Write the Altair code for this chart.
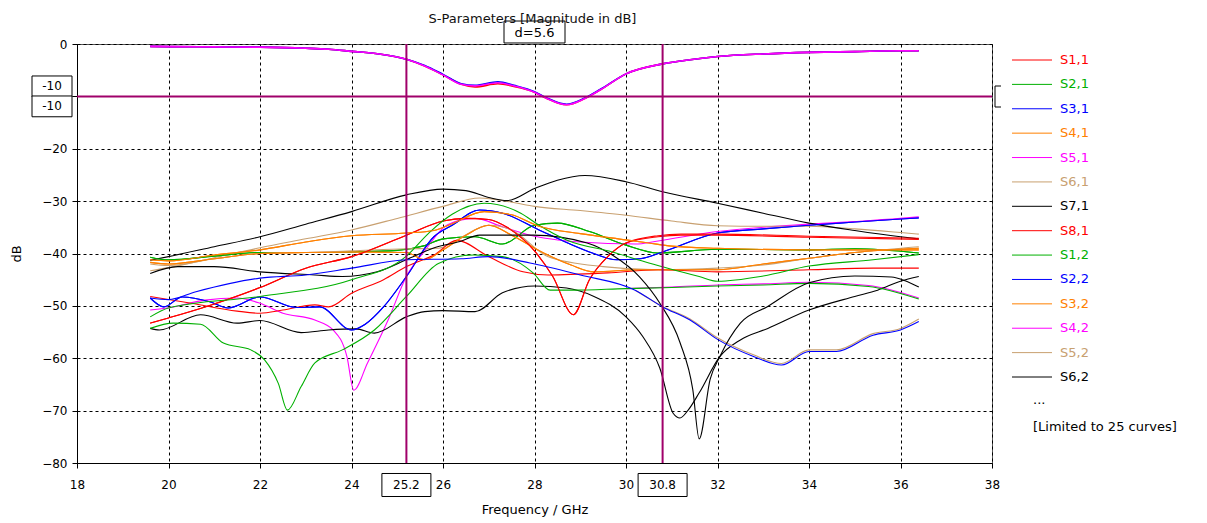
import altair as alt
import pandas as pd

F = "DejaVu Sans"
RED, GREEN, BLUE, ORANGE = "#FF0000", "#00B000", "#0000FF", "#FF8000"
MAGENTA, TAN, BLACK = "#FF00FF", "#C8A070", "#000000"
MARK = "#A0006A"

# ---------------- data ----------------
refl_f = [19.6, 20, 21, 22, 23, 23.5, 24, 24.6, 25.2, 25.6, 26, 26.4, 26.7, 27.2, 27.55, 28, 28.25, 28.7, 29.1, 29.45, 30, 30.8, 31.4, 32, 33, 34, 35, 36, 36.4]
s11_db = [-0.45, -0.5, -0.55, -0.6, -0.8, -1.0, -1.4, -1.9, -2.9, -4.2, -5.9, -7.7, -8.2, -7.6, -8.1, -9.2, -10.3, -11.6, -10.4, -8.7, -5.7, -3.8, -3.0, -2.4, -1.9, -1.6, -1.45, -1.3, -1.3]
s22_db = [-0.45, -0.5, -0.55, -0.6, -0.8, -1.0, -1.4, -1.9, -2.9, -4.1, -5.8, -7.6, -7.9, -7.2, -7.9, -9.1, -10.2, -11.5, -10.3, -8.6, -5.7, -3.8, -3.0, -2.4, -1.9, -1.6, -1.45, -1.3, -1.3]
s33_db = [-0.45, -0.5, -0.55, -0.6, -0.8, -1.0, -1.4, -1.9, -2.9, -4.2, -5.9, -7.7, -8.0, -7.4, -8.0, -9.2, -10.3, -11.6, -10.4, -8.7, -5.7, -3.8, -3.0, -2.4, -1.9, -1.6, -1.45, -1.3, -1.3]

f_k1 = [19.6, 20, 21, 22, 23, 24, 25.2, 26, 26.5, 27, 27.4, 28, 28.5, 29.1, 30, 30.8, 32, 33, 34, 35, 36, 36.4]
db_k1 = [-41.3, -40.6, -38.7, -36.8, -34.4, -32.0, -28.8, -27.7, -28.0, -29.3, -29.9, -27.6, -26.0, -25.1, -26.3, -28.2, -30.4, -32.3, -34.2, -35.6, -36.8, -37.2]

f_t1 = [19.6, 20, 21, 22, 23, 24, 25, 26, 26.8, 27.5, 28, 29, 30, 31, 32, 33, 34, 35, 36, 36.4]
db_t1 = [-43.3, -42.7, -40.8, -38.9, -37.2, -35.5, -33.3, -31.0, -29.4, -30.2, -31.0, -31.8, -32.7, -33.8, -34.7, -34.8, -34.8, -35.3, -36.0, -36.3]

f_o1 = [19.6, 20, 21, 22, 23, 24, 25.2, 25.8, 26.2, 26.9, 27.5, 28.1, 29, 30, 30.5, 31, 32, 34, 36.4]
db_o1 = [-41.2, -41.4, -40.3, -39.3, -37.8, -36.6, -36.1, -35.6, -34.3, -32.0, -32.6, -34.8, -36.2, -37.4, -38.0, -38.6, -39.0, -39.3, -39.3]

f_o2 = [19.6, 20, 21, 22, 23, 24, 25.2, 25.6, 26, 26.5, 27, 27.5, 28.2, 28.8, 29.3, 30.3, 32, 33, 34, 35, 36.4]
db_o2 = [-41.7, -42.0, -41.0, -40.0, -39.8, -39.7, -39.8, -41.2, -39.3, -36.5, -34.6, -36.5, -39.9, -42.2, -43.5, -43.1, -43.1, -42.0, -40.9, -39.8, -39.0]

f_t2 = [19.6, 20, 21, 22, 23, 24, 25.2, 25.9, 26.3, 27, 27.5, 28.3, 29.5, 30.7, 32, 33, 34, 35, 36.4]
db_t2 = [-42.0, -42.3, -41.0, -40.0, -39.8, -39.5, -39.1, -39.0, -37.4, -34.6, -35.5, -40.6, -42.5, -43.1, -42.8, -42.2, -40.9, -39.8, -38.7]

f_b1 = [19.6, 19.9, 20.3, 20.9, 21.3, 22, 22.8, 23.3, 24.0, 24.3, 24.7, 25.2, 25.8, 26.2, 26.8, 27.3, 28.1, 29.2, 29.8, 30.3, 30.8, 32, 33, 34, 35, 36, 36.4]
db_b1 = [-48.5, -50.2, -48.3, -49.2, -50.4, -48.3, -50.3, -50.2, -54.6, -53.5, -50.2, -44.4, -36.8, -34.6, -31.7, -32.3, -35.5, -39.7, -41.2, -41.0, -39.7, -36.1, -35.3, -34.6, -34.0, -33.4, -33.2]

f_b2 = [19.6, 20, 20.6, 22, 23, 24, 25.2, 26.4, 27, 27.9, 29, 30.2, 30.8, 31.4, 32, 32.8, 33.4, 34, 34.6, 35.4, 36, 36.4]
db_b2 = [-48.5, -48.8, -47.3, -44.7, -44.1, -42.8, -41.2, -41.0, -40.6, -41.8, -44.1, -47.0, -50.2, -52.7, -56.4, -59.7, -61.3, -58.7, -58.7, -55.6, -54.6, -53.0]
f_t3 = [30.2, 30.8, 31.4, 32, 32.8, 33.4, 34, 34.6, 35.4, 36, 36.4]
db_t3 = [-47.0, -50.1, -52.5, -56.1, -59.4, -61.0, -58.4, -58.4, -55.3, -54.3, -52.5]

f_m1 = [19.6, 20.1, 20.8, 21.5, 22, 22.5, 23.2, 23.6, 23.9, 24.05, 24.35, 24.8, 25.2, 25.6, 26.1, 26.7, 27.3, 27.9, 29.0, 30.2, 30.7, 32, 33, 34, 35, 36, 36.4]
db_m1 = [-50.8, -50.2, -48.9, -48.5, -49.5, -51.4, -52.7, -54.6, -59.7, -66.1, -60.9, -52.7, -44.4, -39.5, -34.5, -33.3, -34.9, -36.5, -37.8, -38.2, -37.6, -35.8, -35.0, -34.4, -33.9, -33.3, -33.0]

f_g3 = [19.6, 20, 21, 22, 23, 24, 25, 25.6, 26, 26.7, 27.3, 28, 28.5, 29.2, 30, 30.7, 32, 34, 35, 36.4]
db_g3 = [-40.7, -41.2, -40.5, -39.8, -39.8, -39.7, -39.4, -38.5, -37.2, -36.8, -38.2, -34.6, -34.2, -35.8, -38.4, -39.9, -39.2, -39.3, -39.1, -39.9]

f_g1 = [19.6, 20.1, 20.7, 21.2, 21.8, 22.1, 22.4, 22.6, 22.9, 23.2, 23.8, 24.5, 25.2, 25.9, 26.66, 27.3, 27.97, 28.34, 28.84, 30.0, 31, 32, 33, 34, 35.3, 36.4]
db_g1 = [-54.3, -53.3, -53.5, -57.1, -58.4, -60.3, -64.8, -69.9, -65.4, -60.9, -58.4, -54.6, -48.2, -41.9, -40.3, -40.6, -43.7, -47.0, -47.0, -46.7, -46.5, -46.2, -46.0, -45.7, -46.3, -48.7]
f_m2 = [30.0, 31, 32, 33, 34, 35.3, 36.4]
db_m2 = [-46.7, -46.4, -46.0, -45.8, -45.5, -46.1, -48.5]

f_g2 = [19.6, 20, 22, 24, 25.2, 25.7, 26.2, 26.9, 27.7, 28.1, 28.7, 29.7, 30.5, 31.6, 32, 33, 34, 35.4, 36.4]
db_g2 = [-52.1, -50.4, -48.2, -45.0, -40.5, -36.0, -32.5, -30.4, -32.3, -34.6, -37.4, -39.7, -41.8, -44.4, -45.3, -44.3, -42.4, -41.2, -40.2]

f_r1 = [19.6, 20, 20.8, 22, 23, 24, 25.2, 26, 26.5, 27, 27.4, 28, 28.4, 28.85, 29.2, 29.6, 30, 30.7, 31.2, 32, 34, 36.4]
db_r1 = [-53.3, -52.3, -50.2, -46.5, -42.8, -40.6, -36.5, -33.8, -33.3, -33.5, -35.0, -39.5, -44.4, -51.7, -45.0, -40.6, -38.0, -36.8, -36.5, -36.5, -36.9, -37.3]
db_r3 = [-53.3, -52.3, -50.2, -46.5, -42.8, -40.6, -36.5, -33.8, -33.3, -33.5, -35.0, -39.5, -44.4, -51.7, -45.0, -40.6, -38.0, -36.6, -36.3, -36.3, -36.7, -37.1]

f_r2 = [19.6, 20.5, 21.5, 22, 22.5, 23.2, 23.5, 24.0, 24.7, 25.2, 25.8, 26.3, 27, 27.75, 28.3, 29.6, 30.7, 32, 34, 35.4, 36.4]
db_r2 = [-48.2, -49.5, -51.0, -51.4, -50.8, -49.8, -50.2, -47.6, -45.0, -42.5, -40.3, -37.5, -40.6, -43.5, -44.1, -43.7, -43.1, -43.5, -43.1, -42.8, -42.8]

f_k2 = [19.6, 19.8, 20.7, 21.5, 22, 22.9, 23.5, 24.1, 24.5, 25.2, 25.6, 26, 26.7, 27.3, 28, 28.7, 29.3, 30, 30.37, 30.74, 31.03, 31.18, 31.35, 31.6, 32.05, 32.5, 33.1, 34, 35, 35.5, 36, 36.4]
db_k2 = [-54.3, -54.6, -51.7, -53.3, -52.8, -55.1, -54.6, -54.4, -55.2, -52.1, -51.1, -50.9, -51.1, -47.5, -46.2, -46.6, -48.2, -52.1, -55.9, -61.9, -70.5, -71.4, -70.0, -66.6, -59.7, -56.5, -54.3, -50.8, -48.2, -47.0, -45.3, -44.4]

f_k3 = [19.6, 20.2, 21, 22, 23.2, 23.8, 24.56, 25.2, 25.78, 26.37, 26.8, 27.97, 29.15, 29.7, 30.3, 30.74, 31.18, 31.46, 31.6, 31.84, 32.05, 32.5, 33.08, 34, 35, 35.8, 36.1, 36.4]
db_k3 = [-43.8, -42.5, -42.5, -43.5, -44.1, -44.4, -43.5, -41.2, -39.0, -37.7, -36.5, -36.5, -38.0, -40.3, -44.5, -49.5, -57.0, -66.0, -75.4, -64.0, -59.7, -53.3, -50.2, -45.6, -44.3, -44.5, -45.2, -46.4]

names = ["S1,1", "S2,1", "S3,1", "S4,1", "S5,1", "S6,1", "S7,1", "S8,1",
         "S1,2", "S2,2", "S3,2", "S4,2", "S5,2", "S6,2", "S7,2", "S8,2",
         "S1,3", "S2,3", "S3,3", "S4,3", "S5,3", "S6,3", "S7,3", "S8,3", "S1,4"]
colors = [RED, GREEN, BLUE, ORANGE, MAGENTA, TAN, BLACK] * 3 + [RED, GREEN, BLUE, ORANGE]
freqs = [refl_f, f_g3, f_b1, f_o1, f_m1, f_t1, f_k1, f_r1,
         f_g3, refl_f, f_o2, f_m2, f_t2, f_k2, f_r2, f_g1,
         f_b1, f_o2, refl_f, f_t3, f_k3, f_r1, f_g2, f_b2, f_o1]
values = [s11_db, db_g3, db_b1, db_o1, db_m1, db_t1, db_k1, db_r1,
          db_g3, s22_db, db_o2, db_m2, db_t2, db_k2, db_r2, db_g1,
          db_b1, db_o2, s33_db, db_t3, db_k3, db_r3, db_g2, db_b2, db_o1]
reflections = ["S1,1", "S2,2", "S3,3"]

legend_names = names[:14]
marker_f = [25.2, 30.8]
marker_db = [-10]
delta_text = ["d=5.6"]
title_text = ["S-Parameters [Magnitude in dB]"]
more_text = ["...", "[Limited to 25 curves]"]

# ---------------- build tables ----------------
rows = []
for k, (n, fx, fy) in enumerate(zip(names, freqs, values)):
    for f, d in zip(fx, fy):
        rows.append({"name": n, "k": k, "f": f, "db": d,
                     "w": 1.6 if n in reflections else 1.1})
df = pd.DataFrame(rows)

cscale = alt.Scale(domain=names, range=colors)
xscale = alt.Scale(domain=[18, 38], nice=False, zero=False)
yscale = alt.Scale(domain=[-80, 0], nice=False, zero=False)

W, H = 915, 419

x_axis = alt.Axis(values=list(range(18, 39, 2)), format="d", title="Frequency / GHz",
                  grid=True, gridDash=[3, 3], gridColor="black", gridWidth=1,
                  tickSize=5, tickColor="black", domainColor="black", labelFlush=False,
                  labelPadding=11, titlePadding=13, labelFont=F, labelFontSize=12,
                  labelColor="black", titleFont=F, titleFontSize=13,
                  titleFontWeight="normal", titleColor="black")
y_axis = alt.Axis(values=list(range(-80, 1, 10)), title="dB",
                  labelExpr="datum.value == -10 ? '' : datum.label",
                  grid=True, gridDash=[3, 3], gridColor="black", gridWidth=1,
                  tickSize=5, tickColor="black", domainColor="black", labelFlush=False,
                  labelPadding=5, titlePadding=18, labelFont=F, labelFontSize=12,
                  labelColor="black", titleFont=F, titleFontSize=13,
                  titleFontWeight="normal", titleColor="black")

lines = alt.Chart(df).mark_line(interpolate="monotone").encode(
    x=alt.X("f:Q", scale=xscale, axis=x_axis),
    y=alt.Y("db:Q", scale=yscale, axis=y_axis),
    color=alt.Color("name:N", scale=cscale, legend=None, sort=names),
    detail="k:O",
    strokeWidth=alt.StrokeWidth("w:Q", scale=None),
)

mdf = pd.DataFrame({"f": marker_f, "lab": [str(v) for v in marker_f]})
hdf = pd.DataFrame({"db": marker_db, "lab": [str(v) for v in marker_db]})

vrules = alt.Chart(mdf).mark_rule(color=MARK, strokeWidth=2).encode(
    x=alt.X("f:Q", scale=xscale))
hrule = alt.Chart(hdf).mark_rule(color=MARK, strokeWidth=2).encode(
    y=alt.Y("db:Q", scale=yscale, axis=None))

xbox = alt.Chart(mdf).mark_point(
    shape="M-1,-0.47L1,-0.47L1,0.47L-1,0.47Z", size=2401, filled=True,
    fill="white", stroke="black", strokeWidth=1, opacity=1).encode(
    x=alt.X("f:Q", scale=xscale), y=alt.value(H + 22))
xboxt = alt.Chart(mdf).mark_text(font=F, fontSize=12, color="black", baseline="middle").encode(
    x=alt.X("f:Q", scale=xscale), y=alt.value(H + 22), text="lab:N")

ybox1 = alt.Chart(hdf).mark_point(
    shape="M-1,-0.52L1,-0.52L1,0.52L-1,0.52Z", size=1600, filled=True,
    fill="white", stroke="black", strokeWidth=1, opacity=1, yOffset=-10).encode(
    x=alt.value(-25), y=alt.Y("db:Q", scale=yscale, axis=None))
ybox2 = alt.Chart(hdf).mark_point(
    shape="M-1,-0.52L1,-0.52L1,0.52L-1,0.52Z", size=1600, filled=True,
    fill="white", stroke="black", strokeWidth=1, opacity=1, yOffset=10).encode(
    x=alt.value(-25), y=alt.Y("db:Q", scale=yscale, axis=None))
ytext1 = alt.Chart(hdf).mark_text(font=F, fontSize=12, color="black", baseline="middle", yOffset=-10).encode(
    x=alt.value(-25), y=alt.Y("db:Q", scale=yscale, axis=None), text="lab:N")
ytext2 = alt.Chart(hdf).mark_text(font=F, fontSize=12, color="black", baseline="middle", yOffset=10).encode(
    x=alt.value(-25), y=alt.Y("db:Q", scale=yscale, axis=None), text="lab:N")

ddf = pd.DataFrame({"f": [sum(marker_f) / 2], "lab": delta_text})
dbox = alt.Chart(ddf).mark_point(
    shape="M-1,-0.36L1,-0.36L1,0.36L-1,0.36Z", size=3721, filled=False,
    stroke="black", strokeWidth=1, opacity=1).encode(
    x=alt.X("f:Q", scale=xscale), y=alt.value(-12))
dtext = alt.Chart(ddf).mark_text(font=F, fontSize=13, color="black", baseline="middle").encode(
    x=alt.X("f:Q", scale=xscale), y=alt.value(-11), text="lab:N")

tdf = pd.DataFrame({"t": title_text})
title = alt.Chart(tdf).mark_text(font=F, fontSize=13, color="#111111", baseline="middle").encode(
    x=alt.value(W / 2 - 2), y=alt.value(-25), text="t:N")

# small bracket at the right end of the -10 marker line
bdf = pd.DataFrame({"db": marker_db})
br_v = alt.Chart(bdf).mark_rule(color="black", strokeWidth=1).encode(
    x=alt.value(W + 3), y=alt.value(42), y2=alt.value(63))
br_t = alt.Chart(bdf).mark_rule(color="black", strokeWidth=1).encode(
    x=alt.value(W + 3), x2=alt.value(W + 9), y=alt.value(42))
br_b = alt.Chart(bdf).mark_rule(color="black", strokeWidth=1).encode(
    x=alt.value(W + 3), x2=alt.value(W + 9), y=alt.value(63))

ldf = pd.DataFrame({"name": legend_names, "i": list(range(len(legend_names)))})
ly = alt.Y("i:Q", scale=alt.Scale(domain=[0, len(legend_names) - 1], range=[16, 333]), axis=None)
leg_lines = alt.Chart(ldf).mark_rule(strokeWidth=1).encode(
    x=alt.value(935), x2=alt.value(975), y=ly,
    color=alt.Color("name:N", scale=cscale, legend=None))
leg_text = alt.Chart(ldf).mark_text(font=F, fontSize=13, align="left", baseline="middle").encode(
    x=alt.value(983), y=ly, text="name:N",
    color=alt.Color("name:N", scale=cscale, legend=None))

odf = pd.DataFrame({"t": more_text, "j": [0, 1]})
more = alt.Chart(odf).mark_text(font=F, fontSize=13, align="left", baseline="middle", color="black").encode(
    x=alt.value(956),
    y=alt.Y("j:Q", scale=alt.Scale(domain=[0, 1], range=[356, 383]), axis=None),
    text="t:N")

chart = alt.layer(
    lines, vrules, hrule, xbox, xboxt, ybox1, ybox2, ytext1, ytext2,
    dbox, dtext, title, br_v, br_t, br_b, leg_lines, leg_text, more
).resolve_scale(y="independent").properties(
    width=W, height=H,
    autosize=alt.AutoSizeParams(type="none"),
    padding={"left": 77, "top": 44, "right": 215, "bottom": 60},
    background="white",
).configure_view(stroke="#555555", strokeWidth=1)

chart.save("out.html", embed_options={"renderer": "svg", "actions": False})
